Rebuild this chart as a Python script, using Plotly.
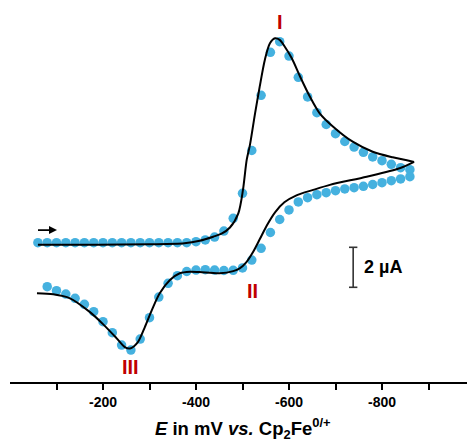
import plotly.graph_objects as go

# ---- data (E in mV vs Cp2Fe0/+, current in µA) ----
E_fwd = [-60, -80, -100, -120, -140, -160, -180, -200, -220, -240, -260, -280, -300,
         -320, -340, -360, -380, -400, -420, -440, -460, -480, -500, -520, -540, -560,
         -580, -600, -620, -640, -660, -680, -700, -720, -740, -760, -780, -800, -820,
         -840, -860]
I_fwd = [0.0, 0.0, 0.0, 0.0, 0.0, 0.0, 0.0, 0.0, 0.0, 0.0, 0.0, 0.0, 0.0,
         0.0, 0.0, 0.0, 0.0, 0.05, 0.14, 0.28, 0.58, 1.22, 2.47, 4.61, 7.37, 9.52,
         10.05, 9.33, 8.27, 7.29, 6.5, 5.91, 5.45, 5.06, 4.78, 4.52, 4.29, 4.1, 3.92,
         3.75, 3.65]

E_rev = [-860, -840, -820, -800, -780, -760, -740, -720, -700, -680, -660, -640, -620,
         -600, -580, -560, -540, -520, -500, -480, -460, -440, -420, -400, -380, -360,
         -340, -320, -300, -280, -260, -240, -220, -200, -180, -160, -140, -120, -100, -80]
I_rev = [3.3, 3.19, 3.1, 3.0, 2.91, 2.82, 2.75, 2.69, 2.6, 2.5, 2.4, 2.25, 2.04,
         1.64, 1.16, 0.51, -0.28, -0.87, -1.26, -1.38, -1.39, -1.37, -1.35, -1.37, -1.44, -1.65,
         -2.03, -2.72, -3.75, -4.82, -5.37, -5.12, -4.5, -3.95, -3.45, -3.08, -2.78, -2.57, -2.4, -2.2]

# simulated curve
E_sim_fwd = [-60, -190, -300, -375, -408, -437, -455, -473, -491, -501, -509, -516, -527,
             -537, -548, -559, -570, -580, -591, -606, -624, -645, -666, -695, -737, -780,
             -823, -869]
I_sim_fwd = [-0.1, -0.1, -0.08, -0.03, 0.1, 0.3, 0.45, 0.76, 1.47, 2.64, 4.14, 4.89, 6.47,
             7.8, 9.14, 9.97, 10.22, 10.14, 9.8, 9.22, 8.3, 7.3, 6.47, 5.8, 5.05, 4.55,
             4.27, 4.04]
E_sim_rev = [-869, -838, -767, -688, -652, -616, -590, -570, -552, -537, -523, -508, -494, -480,
             -451, -408, -387, -365, -344, -322, -305, -290, -275, -258, -247, -229, -200,
             -172, -129, -93, -58]
I_sim_rev = [4.04, 3.72, 3.30, 2.89, 2.64, 2.37, 2.02, 1.52, 0.85, 0.17, -0.45, -0.98, -1.28, -1.42,
             -1.53, -1.47, -1.45, -1.53, -1.87, -2.53, -3.37, -4.22, -4.97, -5.29, -5.22, -4.77, -4.07,
             -3.47, -2.78, -2.58, -2.53]

major_ticks = [-200, -400, -600, -800]
major_labels = ["-200", "-400", "-600", "-800"]
minor_ticks = [-100, -300, -500, -700, -900]

peak_labels = ["I", "II", "III"]
peak_E = [-580, -522, -259]
peak_I = [11.06, -2.4, -6.2]

scale_uA = 2

DOT = "#45B1DF"
RED = "#C00000"
FONT = "Arial, Liberation Sans, sans-serif"

fig = go.Figure()
fig.add_trace(go.Scatter(x=E_fwd, y=I_fwd, mode="markers",
                         marker=dict(color=DOT, size=9.5, line=dict(width=0)), hoverinfo="skip"))
fig.add_trace(go.Scatter(x=E_rev, y=I_rev, mode="markers",
                         marker=dict(color=DOT, size=9.5, line=dict(width=0)), hoverinfo="skip"))
fig.add_trace(go.Scatter(x=E_sim_fwd, y=I_sim_fwd, mode="lines",
                         line=dict(color="black", width=2, shape="spline", smoothing=0.8)))
fig.add_trace(go.Scatter(x=E_sim_rev, y=I_sim_rev, mode="lines",
                         line=dict(color="black", width=2, shape="spline", smoothing=0.8)))

annotations = []
for lab, e, i in zip(peak_labels, peak_E, peak_I):
    annotations.append(dict(x=e, y=i, text=lab, showarrow=False, xanchor="center", yanchor="middle",
                            font=dict(family=FONT, size=20, color=RED, weight="bold")))

# scan direction arrow
annotations.append(dict(x=-101, y=0.63, ax=-57, ay=0.63, axref="x", ayref="y", xref="x", yref="y",
                        text="", showarrow=True, arrowhead=2, arrowsize=1, arrowwidth=1.6,
                        arrowcolor="black"))

# scale bar text
bar_E = -738
bar_top = -0.23
annotations.append(dict(x=-757, y=bar_top - scale_uA / 2, text=f"{scale_uA} µA", showarrow=False,
                        xanchor="left", yanchor="middle",
                        font=dict(family=FONT, size=18, color="black", weight="bold")))

# axis title
annotations.append(dict(x=0.5, y=0, xref="paper", yref="paper", yanchor="middle", yshift=-46,
                        text="<i>E</i> in mV <i>vs.</i> Cp<sub>2</sub>Fe<sup>0/+</sup>",
                        showarrow=False,
                        font=dict(family=FONT, size=18.5, color="black", weight="bold")))

shapes = [
    dict(type="line", x0=bar_E, x1=bar_E, y0=bar_top, y1=bar_top - scale_uA,
         line=dict(color="#333333", width=1.6)),
    dict(type="line", x0=bar_E + 9, x1=bar_E - 9, y0=bar_top, y1=bar_top,
         line=dict(color="#333333", width=1.6)),
    dict(type="line", x0=bar_E + 9, x1=bar_E - 9, y0=bar_top - scale_uA, y1=bar_top - scale_uA,
         line=dict(color="#333333", width=1.6)),
]

# page body has an 8px margin, so the figure is sized to fill the rest of the window
fig.update_layout(
    width=467, height=434,
    margin=dict(l=2, r=0, t=0, b=60),
    paper_bgcolor="white", plot_bgcolor="white",
    showlegend=False,
    annotations=annotations,
    shapes=shapes,
    xaxis=dict(range=[0, -1000], tickvals=major_ticks, ticktext=major_labels,
               ticks="outside", ticklen=6, tickwidth=1.5, tickcolor="black",
               minor=dict(tickvals=minor_ticks, ticks="outside", ticklen=6, tickwidth=1.5,
                          tickcolor="black", showgrid=False),
               showline=True, linecolor="black", linewidth=2,
               showgrid=False, zeroline=False,
               tickfont=dict(family=FONT, size=14, color="black", weight="bold")),
    yaxis=dict(range=[-6.965, 11.735], visible=False, showgrid=False, zeroline=False),
)

fig.write_html("out.html")
